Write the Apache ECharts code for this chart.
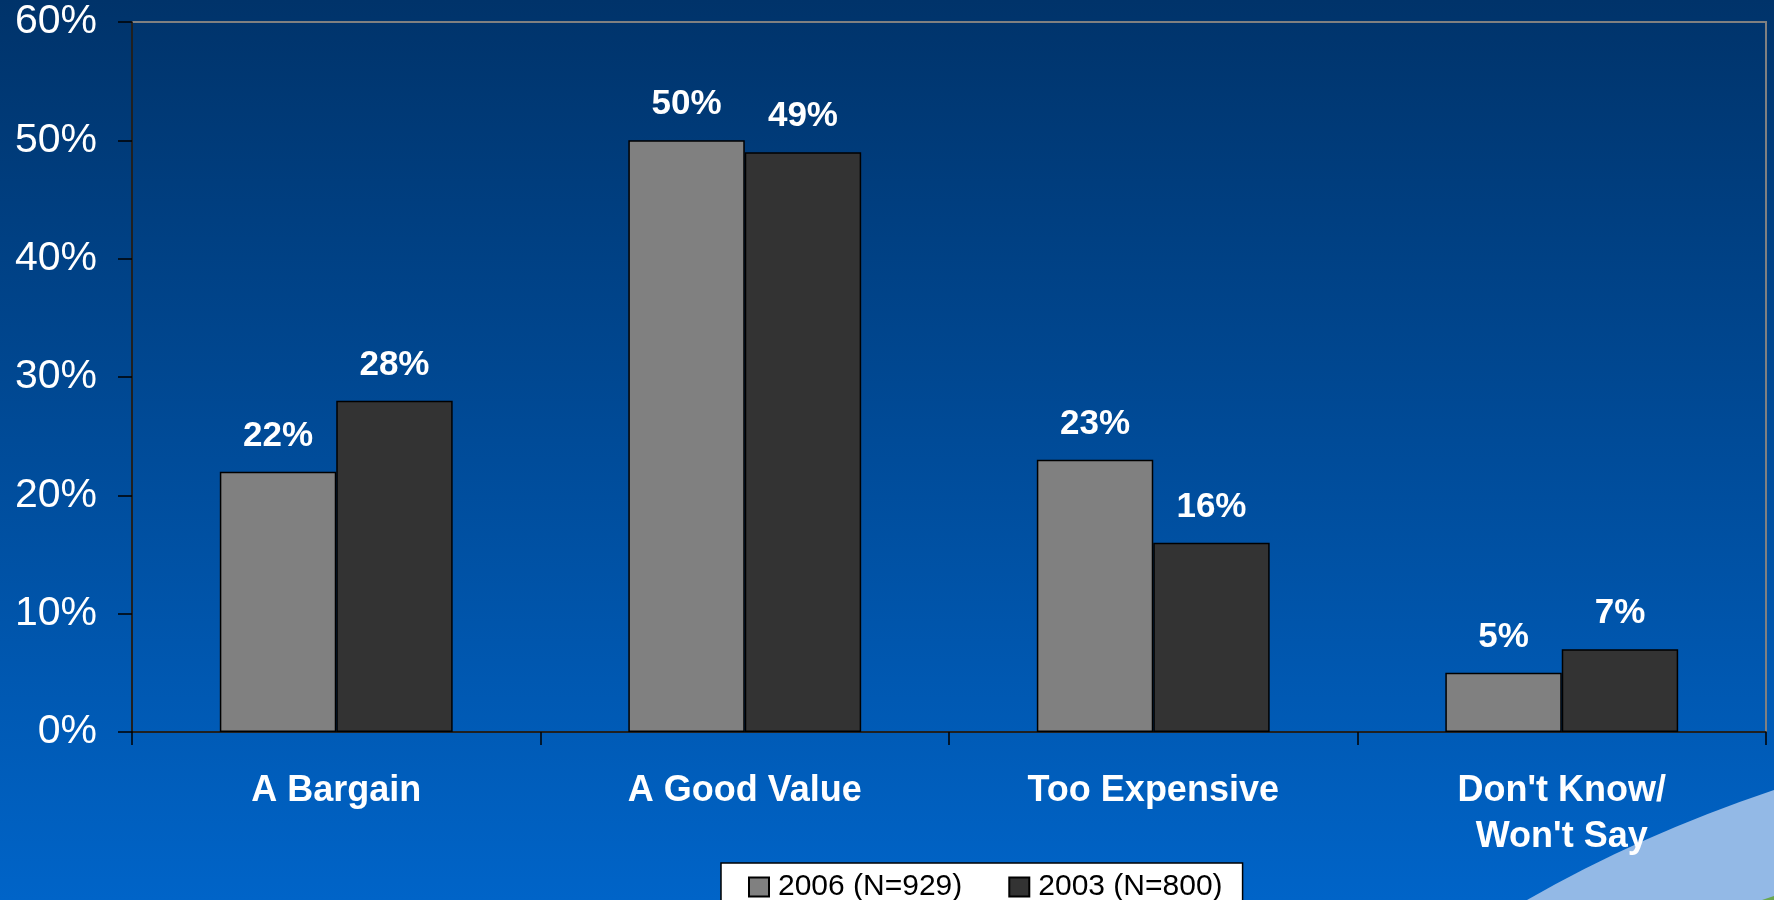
<!DOCTYPE html>
<html>
<head>
<meta charset="utf-8">
<script src="https://cdn.jsdelivr.net/npm/echarts@6/dist/echarts.min.js"></script>
<style>
  html, body { margin: 0; padding: 0; }
  #wrap { position: relative; width: 1774px; height: 900px; overflow: hidden; }
  #bg { position: absolute; left: 0; top: 0; }
  #chart { position: absolute; left: 0; top: 0; width: 1774px; height: 900px; }
</style>
</head>
<body>
<div id="wrap">
  <!-- slide backdrop: blue gradient with a light swoosh in the lower right corner -->
  <svg id="bg" width="1774" height="900" xmlns="http://www.w3.org/2000/svg">
    <defs>
      <linearGradient id="sky" x1="0" y1="0" x2="0" y2="1">
        <stop offset="0" stop-color="#00336a"/>
        <stop offset="1" stop-color="#0064c8"/>
      </linearGradient>
    </defs>
    <rect x="0" y="0" width="1774" height="900" fill="url(#sky)"/>
    <path d="M1527 900 Q1640 835 1774 790 L1774 900 Z" fill="#93b9e6"/>
    <path d="M1762 900 Q1768 898 1774 896 L1774 900 Z" fill="#6aa84f"/>
  </svg>
  <div id="chart"></div>
</div>
<script>
const categories = ['A Bargain', 'A Good Value', 'Too Expensive', "Don't Know/\nWon't Say"];
const seriesNames = ['2006 (N=929)', '2003 (N=800)'];
const values2006 = [22, 50, 23, 5];
const values2003 = [28, 49, 16, 7];

const FONT = '"Liberation Sans", Arial, sans-serif';

const chart = echarts.init(document.getElementById('chart'), null, { renderer: 'canvas' });

function barSeries(name, data, color) {
  return {
    name: name,
    type: 'bar',
    data: data,
    barGap: '0%',
    barCategoryGap: '43%',
    itemStyle: { color: color, borderColor: '#000000', borderWidth: 1.5 },
    label: {
      show: true,
      position: 'top',
      distance: 18,
      formatter: '{c}%',
      color: '#ffffff',
      fontFamily: FONT,
      fontWeight: 'bold',
      fontSize: 35
    },
    emphasis: { disabled: true }
  };
}

chart.setOption({
  backgroundColor: 'transparent',
  animation: false,
  grid: {
    left: 132, right: 8, top: 22, bottom: 168,
    show: true,
    borderColor: '#808080',
    borderWidth: 2,
    backgroundColor: 'transparent'
  },
  legend: {
    data: seriesNames,
    left: 721,
    top: 863,
    orient: 'horizontal',
    selectedMode: false,
    backgroundColor: '#ffffff',
    borderColor: '#000000',
    borderWidth: 1.5,
    padding: [9, 20, 6, 27],
    itemWidth: 20,
    itemHeight: 19,
    itemGap: 46,
    icon: 'rect',
    textStyle: { color: '#000000', fontFamily: FONT, fontSize: 30, padding: [0, 0, 0, 4] }
  },
  xAxis: {
    type: 'category',
    data: categories,
    axisLine: { show: true, lineStyle: { color: '#000000', width: 1.5 } },
    axisTick: { show: true, alignWithLabel: false, length: 13, lineStyle: { color: '#000000', width: 1.5 } },
    axisLabel: {
      color: '#ffffff',
      fontFamily: FONT,
      fontWeight: 'bold',
      fontSize: 36,
      lineHeight: 46,
      margin: 36,
      interval: 0
    },
    splitLine: { show: false }
  },
  yAxis: {
    type: 'value',
    min: 0,
    max: 60,
    interval: 10,
    axisLine: { show: true, lineStyle: { color: '#000000', width: 1.5 } },
    axisTick: { show: true, length: 14, lineStyle: { color: '#000000', width: 1.5 } },
    axisLabel: {
      formatter: '{value}%',
      color: '#ffffff',
      fontFamily: FONT,
      fontSize: 41,
      margin: 35
    },
    splitLine: { show: false }
  },
  series: [
    barSeries(seriesNames[0], values2006, '#808080'),
    barSeries(seriesNames[1], values2003, '#333333')
  ]
});
</script>
</body>
</html>
